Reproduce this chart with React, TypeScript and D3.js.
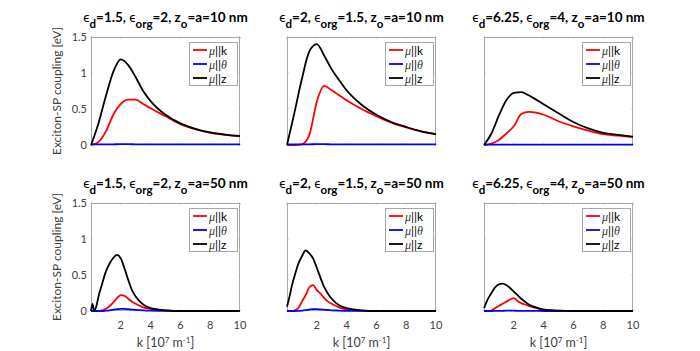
import * as d3 from "d3";

// k grid for the top row (10 nm panels)
const kTop = [0, 0.5, 1, 1.5, 2, 2.5, 3, 3.5, 4, 5, 6, 7, 8, 9, 10];
// k grid for the bottom row (50 nm panels)
const kBottom = [0, 0.1, 0.2, 0.35, 0.5, 0.75, 1, 1.25, 1.5, 1.75, 2, 2.25, 2.5, 2.75, 3, 3.5, 4, 5, 6, 8, 10];

// top row, panel 1: eps_d=1.5, eps_org=2
const p1K = [0, 0.04, 0.19, 0.42, 0.57, 0.63, 0.63, 0.57, 0.51, 0.4, 0.29, 0.22, 0.17, 0.14, 0.12];
const p1T = [0.008, 0.008, 0.009, 0.01, 0.011, 0.011, 0.01, 0.01, 0.009, 0.008, 0.008, 0.008, 0.008, 0.008, 0.008];
const p1Z = [0, 0.3, 0.68, 1.02, 1.19, 1.11, 0.94, 0.75, 0.61, 0.42, 0.3, 0.225, 0.175, 0.145, 0.125];
// top row, panel 2: eps_d=2, eps_org=1.5
const p2K = [0, 0, 0.01, 0.14, 0.6, 0.82, 0.76, 0.69, 0.62, 0.5, 0.4, 0.31, 0.245, 0.19, 0.15];
const p2T = [0.008, 0.008, 0.009, 0.01, 0.011, 0.011, 0.01, 0.01, 0.009, 0.008, 0.008, 0.008, 0.008, 0.008, 0.008];
const p2Z = [0, 0.45, 0.92, 1.3, 1.4, 1.24, 1.05, 0.9, 0.76, 0.56, 0.42, 0.32, 0.25, 0.19, 0.15];
// top row, panel 3: eps_d=6.25, eps_org=4
const p3K = [0, 0.02, 0.07, 0.16, 0.26, 0.43, 0.46, 0.45, 0.42, 0.33, 0.26, 0.2, 0.15, 0.13, 0.11];
const p3T = [0.005, 0.005, 0.005, 0.005, 0.006, 0.006, 0.006, 0.005, 0.005, 0.005, 0.005, 0.005, 0.005, 0.005, 0.005];
const p3Z = [0, 0.16, 0.41, 0.62, 0.725, 0.735, 0.69, 0.63, 0.565, 0.44, 0.32, 0.23, 0.17, 0.14, 0.115];
// bottom row, panel 4
const p4K = [0, 0, 0, 0, 0, 0.01, 0.03, 0.07, 0.12, 0.18, 0.22, 0.21, 0.17, 0.13, 0.1, 0.05, 0.03, 0.01, 0, 0, 0];
const p4T = [0, 0, 0, 0, 0, 0, 0.005, 0.01, 0.02, 0.025, 0.03, 0.03, 0.025, 0.02, 0.015, 0.008, 0.004, 0.001, 0, 0, 0];
const p4Z = [0, 0.1, 0.01, 0.06, 0.2, 0.38, 0.55, 0.66, 0.74, 0.78, 0.73, 0.59, 0.43, 0.29, 0.2, 0.09, 0.04, 0.01, 0, 0, 0];
// bottom row, panel 5
const p5K = [0, 0, 0, 0, 0.01, 0.04, 0.13, 0.22, 0.33, 0.36, 0.29, 0.24, 0.18, 0.13, 0.1, 0.05, 0.02, 0.005, 0, 0, 0];
const p5T = [0, 0, 0, 0, 0, 0.002, 0.006, 0.012, 0.02, 0.025, 0.025, 0.022, 0.018, 0.014, 0.01, 0.006, 0.003, 0.001, 0, 0, 0];
const p5Z = [0.06, 0.14, 0.23, 0.37, 0.48, 0.65, 0.76, 0.84, 0.8, 0.73, 0.6, 0.46, 0.33, 0.24, 0.17, 0.08, 0.04, 0.01, 0, 0, 0];
// bottom row, panel 6
const p6K = [0, 0, 0, 0, 0.01, 0.04, 0.07, 0.1, 0.13, 0.16, 0.18, 0.14, 0.11, 0.09, 0.07, 0.04, 0.02, 0.005, 0, 0, 0];
const p6T = [0, 0, 0, 0, 0, 0.001, 0.002, 0.003, 0.004, 0.004, 0.004, 0.003, 0.003, 0.002, 0.002, 0.001, 0, 0, 0, 0, 0];
const p6Z = [0.04, 0.09, 0.14, 0.2, 0.25, 0.33, 0.37, 0.38, 0.36, 0.32, 0.27, 0.22, 0.17, 0.13, 0.09, 0.05, 0.02, 0.005, 0, 0, 0];

const epsD = ["1.5", "2", "6.25"];
const epsOrg = ["2", "1.5", "4"];
const zDist = ["10", "50"];

const xTicks = [0, 2, 4, 6, 8, 10];
const xTickLabels = ["", "2", "4", "6", "8", "10"];
const yTicks = [0, 0.5, 1, 1.5];
const yTickLabels = ["0", "0.5", "1", "1.5"];

const seriesColors = ["#ff0000", "#0000ff", "#000000"];

const panels = [
  { k: kTop, s: [p1K, p1T, p1Z] },
  { k: kTop, s: [p2K, p2T, p2Z] },
  { k: kTop, s: [p3K, p3T, p3Z] },
  { k: kBottom, s: [p4K, p4T, p4Z] },
  { k: kBottom, s: [p5K, p5T, p5Z] },
  { k: kBottom, s: [p6K, p6T, p6Z] },
];

const W = 700;
const H = 351;
const colLeft = [91, 287, 484];
const rowTop = [37, 203];
const pw = 149;
const ph = 108;
const FONT = "Lato, 'Open Sans', sans-serif";
const axisCol = "#a8a8a8";
const tickTextCol = "#404040";

function Panel({ idx }: { idx: number }) {
  const row = Math.floor(idx / 3);
  const col = idx % 3;
  const x0 = colLeft[col];
  const y0 = rowTop[row];
  const p = panels[idx];
  const xs = d3.scaleLinear().domain([0, 10]).range([0, pw]);
  const ys = d3.scaleLinear().domain([0, 1.5]).range([ph, 0]);
  const line = d3
    .line<number>()
    .x((_, i) => xs(p.k[i]))
    .y((d) => ys(d))
    .curve(d3.curveMonotoneX);

  const legW = 48;
  const legX = pw - 3 - legW;
  const legY = 5;
  const legItems = [
    { sym: "μ", rest: "||", tail: "k", tailItalic: false },
    { sym: "μ", rest: "||", tail: "θ", tailItalic: true },
    { sym: "μ", rest: "||", tail: "z", tailItalic: false },
  ];

  return (
    <g transform={`translate(${x0},${y0})`}>
      <rect x={0.5} y={0.5} width={pw - 1} height={ph - 1} fill="#fff" stroke={axisCol} />
      {/* ticks */}
      {xTicks.map((t) => (
        <g key={"xt" + t}>
          <line x1={xs(t)} x2={xs(t)} y1={ph} y2={ph - 1.5} stroke={axisCol} />
          <line x1={xs(t)} x2={xs(t)} y1={0} y2={1.5} stroke={axisCol} />
        </g>
      ))}
      {yTicks.map((t) => (
        <g key={"yt" + t}>
          <line x1={0} x2={1.5} y1={ys(t)} y2={ys(t)} stroke={axisCol} />
          <line x1={pw} x2={pw - 1.5} y1={ys(t)} y2={ys(t)} stroke={axisCol} />
        </g>
      ))}
      {/* curves */}
      {p.s.map((vals, i) => (
        <path key={i} d={line(vals) || ""} fill="none" stroke={seriesColors[i]} strokeWidth={1.8} />
      ))}
      {/* tick labels */}
      {col === 0 &&
        yTicks.map((t, i) => (
          <text key={"yl" + t} x={-4} y={ys(t) + 4} textAnchor="end" fontSize={11} fill={tickTextCol} fontFamily={FONT}>
            {yTickLabels[i]}
          </text>
        ))}
      {row === 1 &&
        xTicks.map((t, i) => (
          <text key={"xl" + t} x={xs(t)} y={ph + 18} textAnchor="middle" fontSize={11} fill={tickTextCol} fontFamily={FONT}>
            {xTickLabels[i]}
          </text>
        ))}
      {row === 1 && (
        <text x={pw / 2} y={ph + 36} textAnchor="middle" fontSize={12.5} fill={tickTextCol} fontFamily={FONT}>
          k [10<tspan dy={-4} fontSize={8}>7</tspan>
          <tspan dy={4}> m</tspan>
          <tspan dy={-4} fontSize={8}>-1</tspan>
          <tspan dy={4}>]</tspan>
        </text>
      )}
      {col === 0 && (
        <text
          transform={`translate(-30,${ph / 2}) rotate(-90)`}
          textAnchor="middle"
          fontSize={12}
          fill={tickTextCol}
          fontFamily={FONT}
        >
          Exciton-SP coupling [eV]
        </text>
      )}
      {/* title */}
      <text x={pw / 2} y={-15} textAnchor="middle" fontSize={13.5} fontWeight="bold" fill="#000" fontFamily={FONT}>
        <tspan fontWeight="normal">ϵ</tspan>
        <tspan dy={6} fontSize={11.5}>d</tspan>
        <tspan dy={-6}>{`=${epsD[col]}, `}</tspan>
        <tspan fontWeight="normal">ϵ</tspan>
        <tspan dy={6} fontSize={11.5}>org</tspan>
        <tspan dy={-6}>{`=${epsOrg[col]}, z`}</tspan>
        <tspan dy={6} fontSize={11.5}>o</tspan>
        <tspan dy={-6}>{`=a=${zDist[row]} nm`}</tspan>
      </text>
      {/* legend */}
      <g transform={`translate(${legX},${legY})`}>
        <rect x={0.5} y={0.5} width={legW} height={43} fill="#fff" stroke={axisCol} />
        {legItems.map((it, i) => {
          const cy = 8 + i * 14;
          return (
            <g key={i}>
              <line x1={4} x2={18} y1={cy} y2={cy} stroke={seriesColors[i]} strokeWidth={1.8} />
              <text x={20} y={cy + 4.5} fontSize={12} fill="#000" fontFamily={FONT}>
                <tspan fontFamily="'Liberation Serif', serif" fontStyle="italic" fill="#333">
                  {it.sym}
                </tspan>
                <tspan>{it.rest}</tspan>
                <tspan
                  fontFamily={it.tailItalic ? "'Liberation Serif', serif" : FONT}
                  fontStyle={it.tailItalic ? "italic" : "normal"}
                  fill={it.tailItalic ? "#333" : "#000"}
                >
                  {it.tail}
                </tspan>
              </text>
            </g>
          );
        })}
      </g>
    </g>
  );
}

export default function App() {
  return (
    <div style={{ position: "absolute", left: 0, top: 0 }}>
      <svg width={W} height={H} viewBox={`0 0 ${W} ${H}`} style={{ display: "block", background: "#fff" }}>
        {panels.map((_, i) => (
          <Panel key={i} idx={i} />
        ))}
      </svg>
    </div>
  );
}
